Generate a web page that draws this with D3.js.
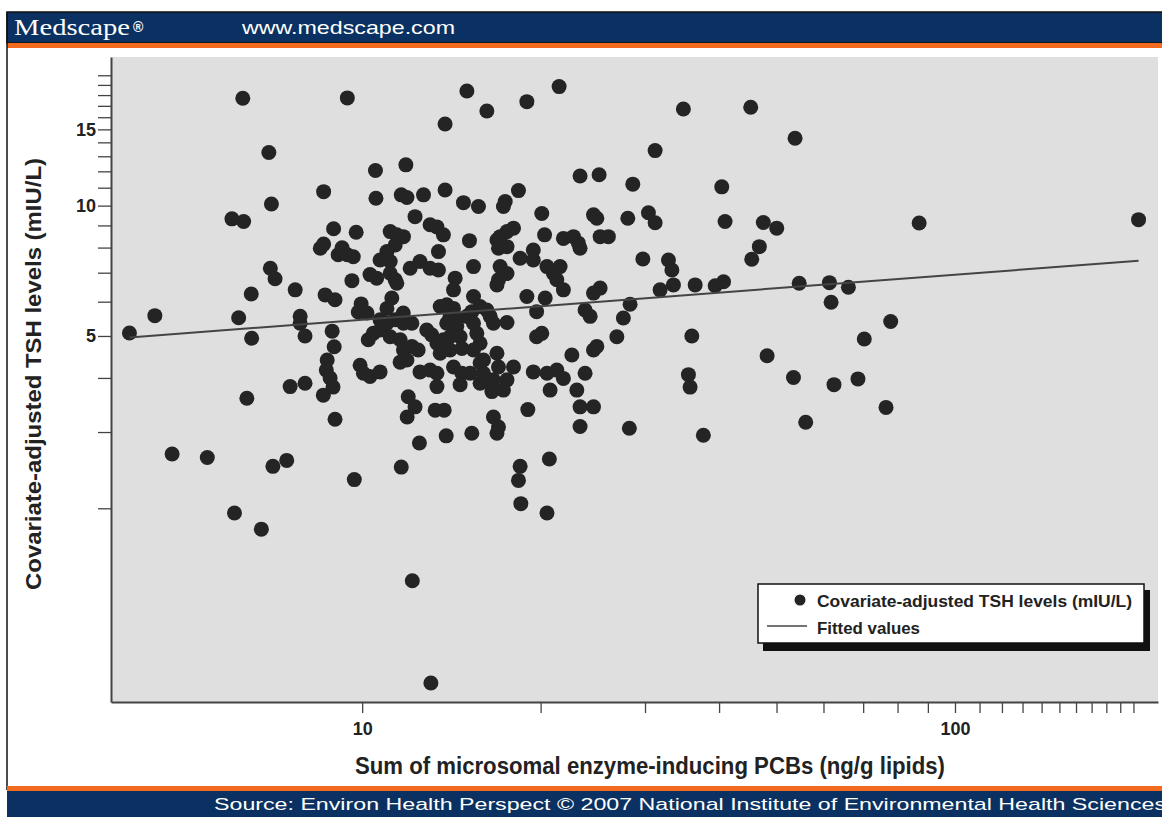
<!DOCTYPE html>
<html>
<head>
<meta charset="utf-8">
<script src="https://cdn.jsdelivr.net/npm/d3@7"></script>
<style>
  body { margin: 0; background: #fff; }
  svg { display: block; }
  .cond { font-family: "Liberation Sans Narrow", "Arial Narrow", "Liberation Sans", Arial, sans-serif; font-weight: bold; fill: #222; }
</style>
</head>
<body>
<svg id="chart" width="1162" height="817"></svg>
<script>
// sum of PCBs (ng/g lipids) and adjusted TSH (mIU/L), same order
var pcbs = [4.05, 4.47, 6.29, 6.03, 6.31, 6.96, 7.03, 7.00, 7.13, 6.50, 6.19, 6.51, 6.39, 7.07, 7.46, 4.78, 5.48, 6.09, 6.76,
    8.61, 8.95, 8.50, 8.61, 9.11, 9.25, 9.44, 9.66, 7.71, 8.66, 9.00, 7.86, 7.86, 8.01, 9.61, 8.90, 8.97, 8.73, 8.70, 8.83, 8.93, 8.60, 7.56, 8.01, 9.00, 9.70, 9.44,
    10.53, 11.85, 10.55, 11.64, 11.90, 12.69, 13.80, 13.80, 12.28, 9.77, 11.15, 11.44, 11.74, 11.37, 13.02, 13.37, 13.71, 11.01, 10.72, 11.15, 13.45, 12.05, 12.52, 13.02,
    13.45, 10.31, 10.58, 11.15, 11.37, 11.44, 9.96, 9.85, 10.19, 11.22, 11.01, 10.72, 11.01, 11.37, 11.74, 12.13, 10.44, 10.24, 10.72, 11.15, 11.59, 11.74, 12.13, 12.43,
    11.90, 11.59, 12.85, 13.10, 13.37, 13.71, 14.07, 13.54, 13.89, 14.26, 14.07, 13.89, 11.73, 9.92, 10.05, 10.31, 10.72, 12.52, 13.02, 13.37, 13.37, 11.96, 12.28, 11.91,
    13.28, 13.75, 13.86, 12.49, 11.64, 12.15, 13.06,
    15.02, 16.23, 18.96, 21.49, 14.82, 15.71, 18.35, 17.43, 17.31, 20.09, 15.17, 16.88, 17.09, 17.55, 18.00, 16.98, 17.55, 20.31, 19.44, 15.41, 17.09, 17.55, 16.98, 16.88,
    18.47, 19.44, 20.50, 21.57, 21.02, 21.30, 21.85, 14.35, 14.26, 15.41, 15.81, 18.96, 20.36, 19.69, 14.44, 15.02, 15.31, 16.23, 17.55, 19.69, 20.09, 14.44, 14.63, 14.73,
    14.07, 13.54, 15.41, 15.61, 15.81, 15.41, 16.44, 16.65, 16.88, 16.98, 16.65, 16.44, 16.02, 14.26, 14.73, 14.63, 15.21, 15.81, 16.02, 15.81, 16.55, 17.55, 18.00, 17.31,
    19.44, 20.50, 21.30, 21.85, 20.75, 19.03, 16.65, 16.98, 16.88, 20.69, 18.47, 18.35, 18.52, 20.50, 15.31, 22.58,
    23.31, 25.10, 28.61, 31.20, 24.56, 24.88, 28.06, 30.40, 31.20, 21.85, 22.72, 23.16, 23.31, 25.20, 26.02, 29.75, 32.86, 33.30, 33.50, 31.81, 36.45, 24.56, 25.20, 23.77,
    24.24, 28.31, 27.58, 26.89, 35.98, 24.56, 24.88, 23.77, 23.02, 23.31, 24.56, 23.31, 28.23, 35.51, 35.74, 34.82, 37.63,
    45.23, 53.73, 40.42, 40.94, 47.5, 50.04, 46.77, 45.41, 87.0, 204, 39.4, 40.7, 54.6, 61.4, 66.1, 61.8, 77.9, 70.3, 48.2, 53.4, 62.5, 68.6, 76.5, 56.0];

var tsh = [5.08, 5.57, 17.70, 9.32, 9.19, 13.26, 10.09, 7.17, 6.78, 6.25, 5.51, 4.94, 3.59, 2.50, 2.58, 2.67, 2.62, 1.95, 1.79,
    10.77, 8.84, 7.97, 8.15, 7.70, 7.99, 7.70, 7.62, 6.39, 6.22, 6.06, 5.55, 5.35, 5.00, 6.71, 5.13, 4.72, 4.40, 4.17, 4.00, 3.81, 3.65, 3.82, 3.89, 3.21, 2.33, 17.73,
    12.05, 12.42, 10.40, 10.59, 10.44, 10.59, 10.87, 15.44, 9.43, 8.68, 8.71, 8.56, 8.48, 8.11, 9.03, 8.93, 8.56, 7.83, 7.49, 7.43, 7.83, 7.17, 7.43, 7.17,
    7.10, 6.93, 6.80, 6.98, 6.74, 6.62, 5.93, 5.68, 5.65, 6.12, 5.79, 5.45, 5.35, 5.45, 5.35, 5.35, 5.07, 4.90, 5.16, 4.98, 4.90, 4.64, 4.73, 4.64,
    4.40, 4.35, 5.16, 5.03, 4.81, 4.90, 4.98, 5.85, 5.90, 5.79, 5.55, 5.35, 5.65, 4.28, 4.10, 4.03, 4.13, 4.13, 4.17, 4.10, 3.82, 3.62, 3.43, 3.25,
    3.37, 3.37, 2.94, 2.83, 2.49, 1.36, 0.79,
    18.40, 16.54, 17.38, 18.83, 10.16, 9.95, 10.83, 10.22, 9.95, 9.59, 8.30, 8.33, 8.48, 8.71, 8.87, 7.97, 8.04, 8.56, 7.90, 7.23, 7.23, 6.97, 6.74, 6.56,
    7.56, 7.49, 7.23, 7.23, 6.97, 6.74, 6.39, 6.80, 6.39, 6.17, 5.85, 6.17, 6.12, 5.69, 5.45, 5.55, 5.69, 5.74, 5.37, 4.98, 5.07, 5.26, 4.98, 4.68,
    4.64, 4.56, 5.35, 5.07, 4.81, 4.64, 5.55, 5.35, 4.56, 4.24, 3.96, 3.89, 4.40, 4.24, 4.10, 3.86, 4.10, 4.33, 4.10, 3.89, 3.72, 3.96, 4.24, 3.75,
    4.13, 4.10, 4.17, 3.99, 3.75, 3.38, 3.25, 3.08, 2.98, 2.60, 2.50, 2.32, 2.05, 1.95, 2.98, 4.52,
    11.71, 11.78, 11.21, 13.40, 9.52, 9.35, 9.35, 9.63, 9.13, 8.40, 8.48, 8.19, 7.97, 8.48, 8.48, 7.53, 7.49, 7.10, 6.56, 6.39, 6.56, 6.28, 6.45, 5.74,
    5.55, 5.92, 5.50, 4.98, 5.00, 4.64, 4.73, 4.10, 3.75, 3.43, 3.43, 3.09, 3.06, 4.07, 3.81, 16.72, 2.95,
    16.87, 14.31, 11.05, 9.19, 9.14, 8.87, 8.04, 7.52, 9.12, 9.28, 6.53, 6.67, 6.62, 6.64, 6.48, 5.98, 5.40, 4.92, 4.50, 4.01, 3.86, 3.98, 3.42, 3.16];

// fitted line end points
var fitPcbs = [4.05, 204];
var fitTsh = [4.96, 7.46];

var xTicks = d3.range(10, 201, 10);
var xLabels = [10, 100];
var yTicks = d3.range(2, 21);
var yLabels = [5, 10, 15];

var navy = "#0a3161", orange = "#f26b1f";
var svg = d3.select("#chart");

var plot = {left: 111, right: 1158, top: 57, bottom: 702};

var x = d3.scaleLog().domain([3.77, 220]).range([plot.left, plot.right]);
var y = d3.scaleLog().domain([0.714, 22.04]).range([plot.bottom, plot.top]);

// header band
svg.append("rect").attr("x", 7).attr("y", 12).attr("width", 1160).attr("height", 31)
    .attr("fill", navy).attr("stroke", "#111").attr("stroke-width", 1.5);
svg.append("rect").attr("x", 7).attr("y", 43).attr("width", 1155).attr("height", 5).attr("fill", orange);
svg.append("text").attr("x", 14).attr("y", 35)
    .attr("font-family", "Liberation Serif, 'Times New Roman', serif")
    .attr("font-size", 24).attr("fill", "#fff")
    .attr("textLength", 116).attr("lengthAdjust", "spacingAndGlyphs")
    .text("Medscape");
svg.append("text").attr("x", 133).attr("y", 32)
    .attr("font-family", "Liberation Sans, Arial, sans-serif")
    .attr("font-size", 14).attr("font-weight", "bold").attr("fill", "#fff").text("®");
svg.append("text").attr("x", 242).attr("y", 34)
    .attr("font-family", "Liberation Sans, Arial, sans-serif")
    .attr("font-size", 19).attr("fill", "#fff")
    .attr("textLength", 213).attr("lengthAdjust", "spacingAndGlyphs")
    .text("www.medscape.com");

// left frame line
svg.append("line").attr("x1", 7).attr("x2", 7).attr("y1", 12).attr("y2", 790)
    .attr("stroke", "#111").attr("stroke-width", 1.5);

// plot background
svg.append("rect").attr("x", plot.left).attr("y", plot.top)
    .attr("width", plot.right - plot.left).attr("height", plot.bottom - plot.top)
    .attr("fill", "#dfdfdf");

// axes
var xAxis = d3.axisBottom(x).tickValues(xTicks).tickSize(11).tickSizeOuter(0)
    .tickFormat(function (d) { return xLabels.indexOf(d) >= 0 ? d : ""; });
var gx = svg.append("g").attr("transform", "translate(0," + plot.bottom + ")").call(xAxis);
gx.select(".domain").attr("stroke", "#444").attr("stroke-width", 2);
gx.selectAll(".tick line").attr("stroke", "#444").attr("stroke-width", 1.3);
gx.selectAll(".tick text").attr("class", "cond").attr("font-size", 18).attr("dy", "1.05em");

var yAxis = d3.axisLeft(y).tickValues(yTicks).tickSize(13).tickSizeOuter(0)
    .tickFormat(function (d) { return yLabels.indexOf(d) >= 0 ? d : ""; });
var gy = svg.append("g").attr("transform", "translate(" + plot.left + ",0)").call(yAxis);
gy.select(".domain").attr("stroke", "#444").attr("stroke-width", 2);
gy.selectAll(".tick line").attr("stroke", "#444").attr("stroke-width", 1.3);
gy.selectAll(".tick text").attr("class", "cond").attr("font-size", 18).attr("x", -15);
svg.selectAll(".tick text").attr("fill", "#222");

// points
svg.append("g").selectAll("circle")
    .data(d3.range(pcbs.length))
    .enter().append("circle")
    .attr("cx", function (i) { return x(pcbs[i]); })
    .attr("cy", function (i) { return y(tsh[i]); })
    .attr("r", 7.5)
    .attr("fill", "#242424");

// fitted values
svg.append("path")
    .datum(d3.range(fitPcbs.length))
    .attr("d", d3.line().x(function (i) { return x(fitPcbs[i]); }).y(function (i) { return y(fitTsh[i]); }))
    .attr("stroke", "#444").attr("stroke-width", 2).attr("fill", "none");

// axis titles
svg.append("text").attr("class", "cond")
    .attr("transform", "translate(41,374) rotate(-90)")
    .attr("text-anchor", "middle").attr("font-size", 22)
    .attr("textLength", 432).attr("lengthAdjust", "spacingAndGlyphs")
    .text("Covariate-adjusted TSH levels (mIU/L)");
svg.append("text").attr("class", "cond")
    .attr("x", 650).attr("y", 774)
    .attr("text-anchor", "middle").attr("font-size", 23)
    .attr("textLength", 590).attr("lengthAdjust", "spacingAndGlyphs")
    .text("Sum of microsomal enzyme-inducing PCBs (ng/g lipids)");

// legend
var lg = svg.append("g");
lg.append("rect").attr("x", 763).attr("y", 590).attr("width", 387).attr("height", 61).attr("fill", "#111");
lg.append("rect").attr("x", 758).attr("y", 584).attr("width", 386).attr("height", 59)
    .attr("fill", "#fff").attr("stroke", "#111").attr("stroke-width", 1.5);
lg.append("circle").attr("cx", 800).attr("cy", 600).attr("r", 5.5).attr("fill", "#242424");
lg.append("text").attr("class", "cond").attr("x", 817).attr("y", 607).attr("font-size", 17)
    .attr("textLength", 315).attr("lengthAdjust", "spacingAndGlyphs")
    .text("Covariate-adjusted TSH levels (mIU/L)");
lg.append("line").attr("x1", 767).attr("x2", 807).attr("y1", 626).attr("y2", 626)
    .attr("stroke", "#444").attr("stroke-width", 1.5);
lg.append("text").attr("class", "cond").attr("x", 817).attr("y", 634).attr("font-size", 17)
    .attr("textLength", 103).attr("lengthAdjust", "spacingAndGlyphs")
    .text("Fitted values");

// footer band
svg.append("rect").attr("x", 7).attr("y", 786).attr("width", 1155).attr("height", 5).attr("fill", orange);
svg.append("rect").attr("x", 7).attr("y", 791).attr("width", 1155).attr("height", 26).attr("fill", navy);
svg.append("text").attr("x", 214).attr("y", 810)
    .attr("font-family", "Liberation Sans, Arial, sans-serif")
    .attr("font-size", 17).attr("fill", "#fff")
    .attr("textLength", 952).attr("lengthAdjust", "spacingAndGlyphs")
    .text("Source: Environ Health Perspect \u00a9 2007 National Institute of Environmental Health Sciences");
</script>
</body>
</html>
